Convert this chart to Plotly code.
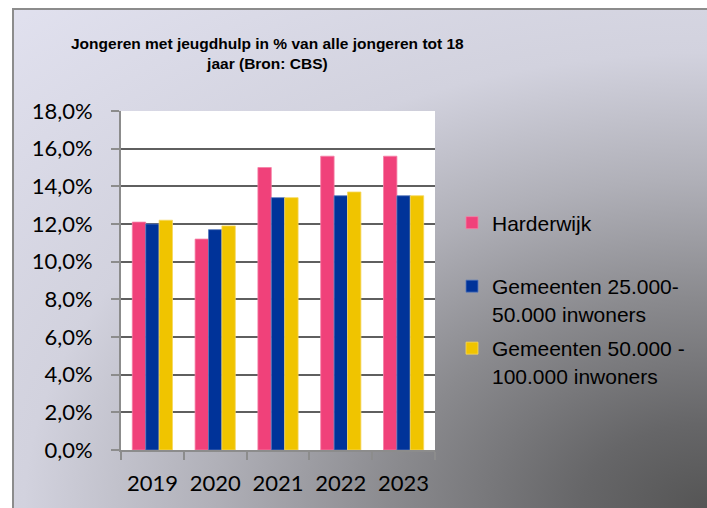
import base64
import plotly.graph_objects as go

# Share of young people (under 18) receiving youth care, in percent
years = ["2019", "2020", "2021", "2022", "2023"]
harderwijk = [12.1, 11.2, 15.0, 15.6, 15.6]
gemeenten_25_50 = [12.0, 11.7, 13.4, 13.5, 13.5]
gemeenten_50_100 = [12.2, 11.9, 13.4, 13.7, 13.5]

series_names = [
    "Harderwijk",
    "Gemeenten 25.000-<br>50.000 inwoners",
    "Gemeenten 50.000 -<br>100.000 inwoners",
]
series_colors = ["#F0417A", "#003399", "#F0C400"]
series_edges = ["#F580A6", "#5577BB", "#F6D860"]
y_ticks = [0, 2, 4, 6, 8, 10, 12, 14, 16, 18]
y_tick_labels = ["0,0%", "2,0%", "4,0%", "6,0%", "8,0%",
                 "10,0%", "12,0%", "14,0%", "16,0%", "18,0%"]

W, H = 707, 508
ML, MR, MT, MB = 121, 272, 111, 58
PW, PH = W - ML - MR, H - MT - MB


def px_x(px):
    return (px - ML) / PW


def px_y(py):
    return (H - MB - py) / PH


# chart-area background: grey radial fade towards the lower right corner
FW, FH = W - 12, H - 8
svg = f"""<svg xmlns='http://www.w3.org/2000/svg' width='{FW}' height='{FH}'
 viewBox='0 0 {FW} {FH}' preserveAspectRatio='none'>
<defs><radialGradient id='g' gradientUnits='userSpaceOnUse' cx='0' cy='0' r='1'
 gradientTransform='translate({FW} {FH}) scale(1050 700)'>
<stop offset='0' stop-color='#555555'/>
<stop offset='0.12' stop-color='#666668'/>
<stop offset='0.30' stop-color='#8a8a8e'/>
<stop offset='0.47' stop-color='#b0b0b8'/>
<stop offset='0.65' stop-color='#d2d2de'/>
<stop offset='1' stop-color='#e2e2f0'/>
</radialGradient></defs>
<rect x='0' y='0' width='{FW}' height='{FH}' fill='url(#g)'/>
<line x1='1' y1='0' x2='1' y2='{FH}' stroke='#8c8c8c' stroke-width='2'/>
<line x1='0' y1='1' x2='{FW}' y2='1' stroke='#8c8c8c' stroke-width='2'/>
</svg>"""
bg_uri = "data:image/svg+xml;base64," + base64.b64encode(svg.encode()).decode()

fig = go.Figure()
legend_ids = ["legend", "legend2", "legend3"]
for name, vals, color, edge, lg in zip(series_names,
                                       [harderwijk, gemeenten_25_50, gemeenten_50_100],
                                       series_colors, series_edges, legend_ids):
    fig.add_trace(go.Bar(x=years, y=vals, name=name, legend=lg,
                         marker=dict(color=color, line=dict(width=0.8, color=edge))))

legend_font = dict(family="Liberation Sans, Arial, sans-serif", size=21, color="#000000")
legend_common = dict(xanchor="left", yanchor="middle", bgcolor="rgba(0,0,0,0)",
                     borderwidth=0, font=legend_font, valign="top", x=px_x(452))

tick_font = dict(family="Lato, sans-serif", size=22, color="#000000")

fig.update_layout(
    width=W, height=H, autosize=False,
    margin=dict(l=ML, r=MR, t=MT, b=MB, pad=0),
    paper_bgcolor="#ffffff", plot_bgcolor="#ffffff",
    barmode="group", bargap=0.36, bargroupgap=0,
    showlegend=True,
    legend=dict(**legend_common, y=px_y(223)),
    legend2=dict(**legend_common, y=px_y(300)),
    legend3=dict(**legend_common, y=px_y(362)),
    xaxis=dict(
        type="category", showgrid=False, zeroline=False,
        showline=True, linecolor="#8c8c8c", linewidth=2,
        ticks="outside", tickson="boundaries", ticklen=8,
        tickcolor="#8c8c8c", tickwidth=2,
        tickfont=tick_font, ticklabelstandoff=13,
    ),
    yaxis=dict(
        range=[0, 18], tickvals=y_ticks, ticktext=y_tick_labels,
        showgrid=True, gridcolor="#5f5f5f", gridwidth=2, zeroline=False,
        showline=True, linecolor="#8c8c8c", linewidth=2,
        ticks="outside", ticklen=8, tickcolor="#8c8c8c", tickwidth=2,
        tickfont=tick_font, ticklabelstandoff=14,
    ),
    images=[dict(source=bg_uri, xref="paper", yref="paper",
                 x=px_x(12), y=px_y(8), sizex=FW / PW, sizey=FH / PH,
                 xanchor="left", yanchor="top", sizing="stretch", layer="below")],
    shapes=[dict(type="rect", xref="paper", yref="paper", x0=0, x1=1, y0=0, y1=1,
                 fillcolor="#ffffff", line=dict(width=0), layer="below")],
    annotations=[dict(
        text="Jongeren met jeugdhulp in % van alle jongeren tot 18<br>jaar (Bron: CBS)",
        xref="paper", yref="paper", x=px_x(267), y=px_y(54),
        xanchor="center", yanchor="middle", showarrow=False,
        font=dict(family="Liberation Sans, Arial, sans-serif",
                  size=15.5, weight="bold", color="#000000"),
    )],
)

fig.write_html("out.html")
